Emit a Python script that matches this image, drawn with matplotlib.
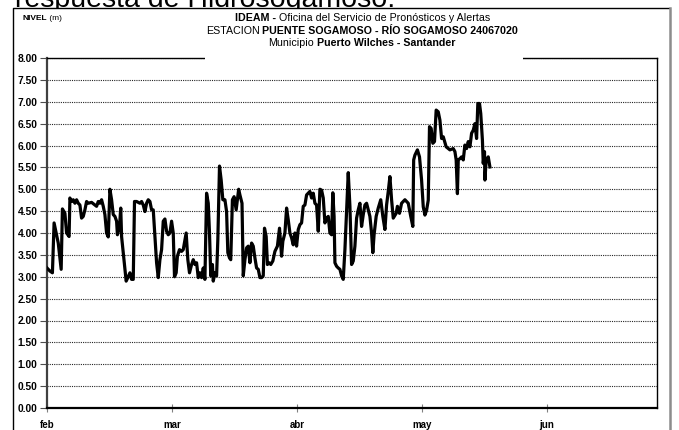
import matplotlib
matplotlib.use("Agg")
import matplotlib.pyplot as plt
from matplotlib.patches import Rectangle
from matplotlib.lines import Line2D

plt.rcParams['font.family'] = ['Liberation Sans', 'DejaVu Sans']

# days counted from 1 feb, level in metres
days = [0, 0.7, 1.3, 1.7, 2.7, 3.4, 3.7, 4.3, 4.7, 5.3, 5.5, 5.9, 6.3, 6.7, 7.1, 7.5,
        7.9, 8.3, 8.7, 9.1, 9.5, 9.9, 10.7, 11.5, 11.9, 12.3, 12.7, 13.1, 13.5, 13.9,
        14.3, 14.7, 15.1, 15.5, 15.9, 16.3, 16.7, 16.9, 17.4, 17.7, 17.9, 18.3, 19.0,
        19.4, 19.9, 20.3, 20.7, 21.0, 21.5, 22.3, 22.7, 23.1, 23.5, 23.9, 24.3, 24.7,
        25.1, 25.5, 25.9, 26.3, 26.7, 27.1, 27.5, 27.9, 28.3, 28.7, 29.1, 29.5, 29.9,
        30.3, 30.6, 31.0, 31.3, 31.8, 32.3, 32.7, 33.4, 33.8, 34.2, 34.7, 35.1, 35.5,
        35.9, 36.3, 36.7, 37.1, 37.5, 37.9, 38.3, 38.7, 39.0, 39.3, 39.7, 39.9, 40.3,
        40.7, 41.0, 41.4, 41.8, 42.2, 42.7, 43.1, 43.4, 43.8, 44.1, 44.5, 44.9, 45.4,
        45.7, 46.0, 46.3, 46.8, 47.1, 47.5, 47.9, 48.3, 48.7, 49.1, 49.5, 49.9, 50.3,
        50.7, 51.1, 51.5, 51.9, 52.2, 52.6, 52.9, 53.3, 53.7, 54.2, 54.7, 55.3, 55.8,
        56.3, 56.6, 57.1, 57.5, 57.9, 58.3, 58.7, 59.1, 59.5, 59.9, 60.3, 60.7, 61.1,
        61.5, 61.9, 62.3, 62.7, 63.1, 63.5, 63.9, 64.3, 64.7, 65.1, 65.5, 65.9, 66.3,
        66.7, 67.1, 67.5, 67.9, 68.3, 68.6, 68.9, 69.1, 69.5, 69.9, 70.3, 70.7, 71.1,
        71.5, 71.9, 72.3, 72.7, 73.1, 73.5, 73.9, 74.3, 74.7, 75.1, 75.5, 75.9, 76.3,
        76.7, 77.5, 77.9, 78.2, 78.5, 79.0, 79.5, 80.1, 80.6, 81.1, 81.5, 81.9, 82.3,
        82.7, 83.1, 83.8, 84.1, 84.6, 85.1, 85.9, 86.7, 87.3, 87.8, 88.0, 88.3, 88.9,
        89.4, 89.9, 90.3, 90.7, 91.1, 91.5, 91.8, 92.2, 92.6, 93.0, 93.4, 93.9, 94.3,
        94.7, 95.1, 95.8, 96.3, 96.7, 97.5, 97.9, 98.2, 98.5, 98.7, 99.1, 99.5, 99.9,
        100.3, 100.7, 101.1, 101.5, 101.9, 102.3, 102.7, 103.1, 103.4, 103.8, 104.1,
        104.5, 104.7, 105.0, 105.1, 105.4, 105.9, 106.3]
nivel = [3.20, 3.13, 3.09, 4.23, 3.77, 3.17, 4.55, 4.45, 4.00, 3.92, 4.80, 4.72, 4.76,
         4.68, 4.76, 4.68, 4.64, 4.34, 4.38, 4.53, 4.72, 4.68, 4.70, 4.64, 4.61, 4.72,
         4.68, 4.76, 4.61, 4.42, 4.00, 3.91, 5.00, 4.76, 4.42, 4.38, 4.27, 3.96, 4.15,
         4.57, 3.92, 3.55, 2.90, 2.98, 3.09, 2.94, 2.94, 4.72, 4.72, 4.68, 4.72, 4.64,
         4.49, 4.68, 4.76, 4.72, 4.53, 4.53, 3.92, 3.32, 2.98, 3.39, 3.62, 4.27, 4.32,
         4.04, 3.96, 4.00, 4.27, 4.00, 3.00, 3.09, 3.47, 3.62, 3.58, 3.62, 4.00, 3.39,
         3.09, 3.28, 3.39, 3.28, 3.32, 2.98, 3.09, 2.98, 3.20, 2.94, 4.91, 4.68, 4.00,
         3.02, 3.28, 2.90, 3.09, 3.02, 3.85, 5.53, 5.21, 4.76, 4.76, 4.49, 3.55, 3.43,
         3.39, 4.76, 4.83, 4.53, 4.76, 5.00, 4.87, 4.68, 3.02, 3.39, 3.66, 3.70, 3.32,
         3.77, 3.70, 3.43, 3.20, 3.17, 2.98, 2.98, 3.02, 4.11, 3.92, 3.28, 3.32, 3.28,
         3.36, 3.58, 3.70, 4.11, 3.47, 3.81, 4.00, 4.57, 4.30, 4.00, 3.89, 3.73, 4.00,
         3.70, 4.08, 4.19, 4.23, 4.61, 4.64, 4.87, 4.91, 4.95, 4.80, 4.91, 4.68, 4.64,
         4.04, 5.00, 4.98, 4.80, 4.23, 4.34, 4.38, 4.00, 3.96, 4.92, 4.38, 3.32, 3.24,
         3.20, 3.17, 3.02, 2.94, 3.62, 4.53, 5.38, 4.61, 3.28, 3.36, 3.70, 4.34, 4.53,
         4.68, 4.15, 4.42, 4.64, 4.68, 4.38, 4.00, 3.55, 3.96, 4.38, 4.57, 4.76, 4.38,
         4.08, 4.64, 4.95, 5.29, 4.76, 4.34, 4.45, 4.61, 4.45, 4.68, 4.76, 4.68, 4.38,
         4.15, 5.67, 5.78, 5.90, 5.74, 5.21, 4.60, 4.41, 4.52, 4.75, 6.43, 6.39, 6.05,
         6.09, 6.81, 6.77, 6.58, 6.16, 6.20, 5.97, 5.93, 5.90, 5.93, 5.86, 5.67, 4.90,
         5.67, 5.70, 5.74, 5.67, 6.01, 5.93, 6.09, 5.97, 6.28, 6.35, 6.50, 6.16, 6.96,
         6.96, 6.73, 6.12, 5.59, 5.86, 5.21, 5.67, 5.74, 5.51]

month_pos = [0, 30, 60, 90, 120]
month_labels = ['feb', 'mar', 'abr', 'may', 'jun']
y_ticks = [i * 0.5 for i in range(17)]

W, H = 679, 430
fig = plt.figure(figsize=(W / 100, H / 100), dpi=100)


def fx(px):
    return px / W


def fy(py):
    return 1 - py / H


ax = fig.add_axes([fx(47), fy(408), fx(657) - fx(47), fy(58) - fy(408)])
ax.set_zorder(1)
ax.plot(days, nivel, color='black', lw=2.3, solid_joinstyle='round', zorder=3)

ax.set_xlim(0, 146.4)
ax.set_ylim(0, 8)
ax.set_yticks(y_ticks)
ax.set_yticklabels(['%.2f' % v for v in y_ticks], fontsize=7.4, fontweight='bold')
ax.set_xticks(month_pos)
ax.set_xticklabels(month_labels, fontsize=7, fontweight='bold')
ax.tick_params(axis='y', length=5, width=0.8, pad=2, color='0.3')
ax.tick_params(axis='x', direction='inout', length=6, width=0.8, pad=6, color='0.5')
ax.grid(axis='y', color='0.15', linestyle=(0, (1, 1)), lw=0.8)
ax.set_axisbelow(True)

ax.spines['left'].set_linewidth(1.6)
ax.spines['left'].set_color('0.25')
ax.spines['bottom'].set_linewidth(1.6)
ax.spines['right'].set_linewidth(1.0)
ax.spines['top'].set_linewidth(1.0)

# clipped caption from the surrounding document
fig.text(fx(15), fy(7), 'respuesta de Hidrosogamoso:', fontsize=20.5, va='baseline',
         ha='left', zorder=0.5)
fig.patches.append(Rectangle((fx(13), 0), fx(670) - fx(13), fy(8), transform=fig.transFigure,
                             facecolor='white', edgecolor='none', zorder=0.8))
# white box behind the title, hides part of the top border
fig.patches.append(Rectangle((fx(205), fy(61)), fx(523) - fx(205), fy(10) - fy(61),
                             transform=fig.transFigure, facecolor='white',
                             edgecolor='none', zorder=2))
# outer frame
fig.lines.append(Line2D([fx(13), fx(13), fx(669)], [0, fy(8), fy(8)],
                        transform=fig.transFigure, color='black', lw=1.0, zorder=4))
fig.lines.append(Line2D([fx(670), fx(670)], [0, fy(8)], transform=fig.transFigure,
                        color='0.55', lw=1.8, zorder=4))


def rich_line(x0, yc, parts, size, center=True):
    texts = [fig.text(0, fy(yc), s, fontsize=size, fontweight=w, va='center', zorder=5)
             for s, w in parts]
    renderer = fig.canvas.get_renderer()
    widths = [t.get_window_extent(renderer).width for t in texts]
    x = x0 - sum(widths) / 2 if center else x0
    for t, w in zip(texts, widths):
        t.set_x(fx(x))
        x += w


rich_line(363, 18, [('IDEAM -', 'bold'), (' Oficina del Servicio de Pronósticos y Alertas', 'normal')], 7.7)
rich_line(362, 30.5, [('ESTACION', 'normal'), (' PUENTE SOGAMOSO - RÍO SOGAMOSO 24067020', 'bold')], 7.7)
rich_line(362, 42.5, [('Municipio', 'normal'), (' Puerto Wilches - Santander', 'bold')], 7.7)
rich_line(22, 18, [('NIVEL', 'bold'), (' (m)', 'normal')], 6.0, center=False)

fig.savefig('out.png', dpi=100, facecolor='white')
